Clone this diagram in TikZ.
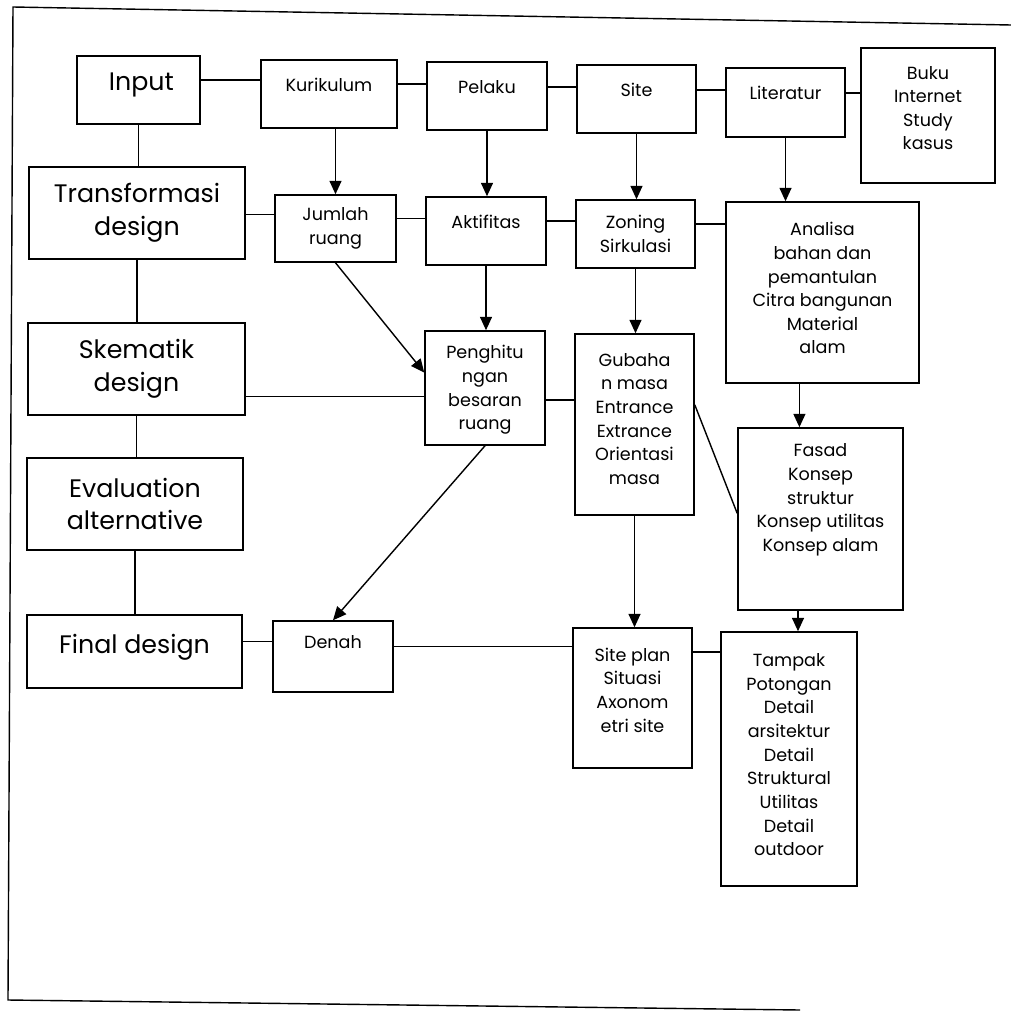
\documentclass[tikz,border=0pt]{standalone}
\usepackage{fontspec}
\setmainfont{Poppins}
\usetikzlibrary{arrows.meta, fit}

\begin{document}
\begin{tikzpicture}[x=0.025cm, y=-0.025cm,
    box/.style={draw, line width=1.1pt, inner sep=0pt},
    big/.style={font=\fontsize{18}{23.4}\selectfont, align=center, inner sep=0pt},
    small/.style={font=\fontsize{12.5}{16.8}\selectfont, align=center, inner sep=0pt},
    link/.style={line width=1pt},
    arr/.style={link, -{Triangle[width=8.5pt, length=9.5pt]}},]

\useasboundingbox (0,0) rectangle (1011,1019);

% Open frame round the chart
\coordinate (frame_tr) at (1011,25);
\coordinate (frame_tl) at (13,7);
\coordinate (frame_bl) at (8,1000);
\coordinate (frame_br) at (800,1010);
\draw[link] (frame_tr) -- (frame_tl) -- (frame_bl) -- (frame_br);

% Left column (stages)
\node[box, fit={(77,56) (200,124)}] (inp) {};
\node[big] (inptxt) at ([yshift=3.5pt, xshift=2pt]inp.center) {Input};
\node[box, fit={(29,167) (245,259)}] (trans) {};
\node[big] (transtxt) at (trans.center) {Transformasi\\design};
\node[box, fit={(28,323) (245,415)}] (skem) {};
\node[big] (skemtxt) at (skem.center) {Skematik\\design};
\node[box, fit={(27,458) (243,550)}] (eval) {};
\node[big] (evaltxt) at (eval.center) {Evaluation\\alternative};
\node[box, fit={(27,615) (242,688)}] (fin) {};
\node[big] (fintxt) at ([yshift=3pt]fin.center) {Final design};

% Input row
\node[box, fit={(261,60) (397,128)}] (kur) {};
\node[small] (kurtxt) at ([yshift=6.4pt]kur.center) {Kurikulum};
\node[box, fit={(427,62) (547,130)}] (pel) {};
\node[small] (peltxt) at ([yshift=6.4pt]pel.center) {Pelaku};
\node[box, fit={(577,65) (696,133)}] (site) {};
\node[small] (sitetxt) at ([yshift=6.4pt]site.center) {Site};
\node[box, fit={(726,68) (845,137)}] (lit) {};
\node[small] (littxt) at ([yshift=6.7pt]lit.center) {Literatur};
\node[box, fit={(861,48) (995,183)}] (buku) {};
\node[small] (bukutxt) at ([yshift=5.3pt]buku.center) {Buku\\Internet\\Study\\kasus};

% Transformation row
\node[box, fit={(275,195) (396,262)}] (jum) {};
\node[small] (jumtxt) at (jum.center) {Jumlah\\ruang};
\node[box, fit={(426,197) (546,265)}] (akt) {};
\node[small] (akttxt) at ([yshift=6.4pt]akt.center) {Aktifitas};
\node[box, fit={(576,200) (695,268)}] (zon) {};
\node[small] (zontxt) at (zon.center) {Zoning\\Sirkulasi};
\node[box, fit={(726,202) (919,383)}] (ana) {};
\node[small] (anatxt) at ([yshift=3pt]ana.center) {Analisa\\bahan dan\\pemantulan\\Citra bangunan\\Material\\alam};

% Schematic row
\node[box, fit={(425,331) (545,445)}] (pen) {};
\node[small] (pentxt) at ([yshift=-1.5pt]pen.center) {Penghitu\\ngan\\besaran\\ruang};
\node[box, fit={(575,334) (694,515)}] (gub) {};
\node[small] (gubtxt) at ([yshift=4pt]gub.center) {Gubaha\\n masa\\Entrance\\Extrance\\Orientasi\\masa};
\node[box, fit={(738,428) (903,610)}] (fas) {};
\node[small] (fastxt) at ([yshift=13.5pt]fas.center) {Fasad\\Konsep\\struktur\\Konsep utilitas\\Konsep alam};

% Final row
\node[box, fit={(273,621) (393,692)}] (den) {};
\node[small] (dentxt) at ([yshift=10pt]den.center) {Denah};
\node[box, fit={(573,628) (692,768)}] (sp) {};
\node[small] (sptxt) at ([yshift=5.7pt]sp.center) {Site plan\\Situasi\\Axonom\\etri site};
\node[box, fit={(721,632) (857,886)}] (tam) {};
\node[small] (tamtxt) at ([yshift=3pt]tam.center) {Tampak\\Potongan\\Detail\\arsitektur\\Detail\\Struktural\\Utilitas\\Detail\\outdoor};

% Stage column links
\draw[link] (inp.south) -- (inp.south |- trans.north);
\draw[link] (trans.south) -- (trans.south |- skem.north);
\draw[link] (skem.south) -- (skem.south |- eval.north);
\draw[link] (eval.south) -- (eval.south |- fin.north);

% Horizontal links
\draw[link] ([yshift=7pt]inp.east) -- ([yshift=7pt]inp.east -| kur.west);
\draw[link] ([yshift=7pt]kur.east) -- ([yshift=7pt]kur.east -| pel.west);
\draw[link] ([yshift=6.4pt]pel.east) -- ([yshift=6.4pt]pel.east -| site.west);
\draw[link] ([yshift=6.4pt]site.east) -- ([yshift=6.4pt]site.east -| lit.west);
\draw[link] ([yshift=6.7pt]lit.east) -- ([yshift=6.7pt]lit.east -| buku.west);
\draw[link] ([yshift=-1pt]trans.east) -- ([yshift=-1pt]trans.east -| jum.west);
\draw[link] ([yshift=7pt]jum.east) -- ([yshift=7pt]jum.east -| akt.west);
\draw[link] ([yshift=7pt]akt.east) -- ([yshift=7pt]akt.east -| zon.west);
\draw[link] ([yshift=7pt]zon.east) -- ([yshift=7pt]zon.east -| ana.west);
\draw[link] ([yshift=-6pt]pen.west) -- ([yshift=-6pt]pen.west -| skem.east);
\draw[link] ([yshift=-8.5pt]pen.east) -- ([yshift=-8.5pt]pen.east -| gub.west);
\draw[link] ([yshift=7pt]fin.east) -- ([yshift=7pt]fin.east -| den.west);
\draw[link] ([yshift=7pt]den.east) -- ([yshift=7pt]den.east -| sp.west);
\draw[link] ([yshift=-17.7pt]sp.north east) -- ([yshift=-17.7pt]sp.north east -| tam.west);

% Arrows down
\draw[arr] (jum.north |- kur.south) -- (jum.north);
\draw[arr] (pel.south) -- (pel.south |- akt.north);
\draw[arr] (site.south) -- (site.south |- zon.north);
\draw[arr] (lit.south) -- (lit.south |- ana.north);
\draw[arr] (akt.south) -- (akt.south |- pen.north);
\draw[arr] (zon.south) -- (zon.south |- gub.north);
\draw[arr] ([xshift=-15pt]fas.north |- ana.south) -- ([xshift=-15pt]fas.north);
\draw[arr] (gub.south) -- (gub.south |- sp.north);
\draw[arr] ([xshift=6.4pt]tam.north |- fas.south) -- ([xshift=6.4pt]tam.north);

% Slanted links
\draw[arr] (jum.south) -- ([yshift=11pt]pen.west);
\draw[arr] (pen.south) -- (den.north);
\draw[link] ([yshift=14pt]gub.east) -- ([yshift=4pt]fas.west);

\end{tikzpicture}
\end{document}
